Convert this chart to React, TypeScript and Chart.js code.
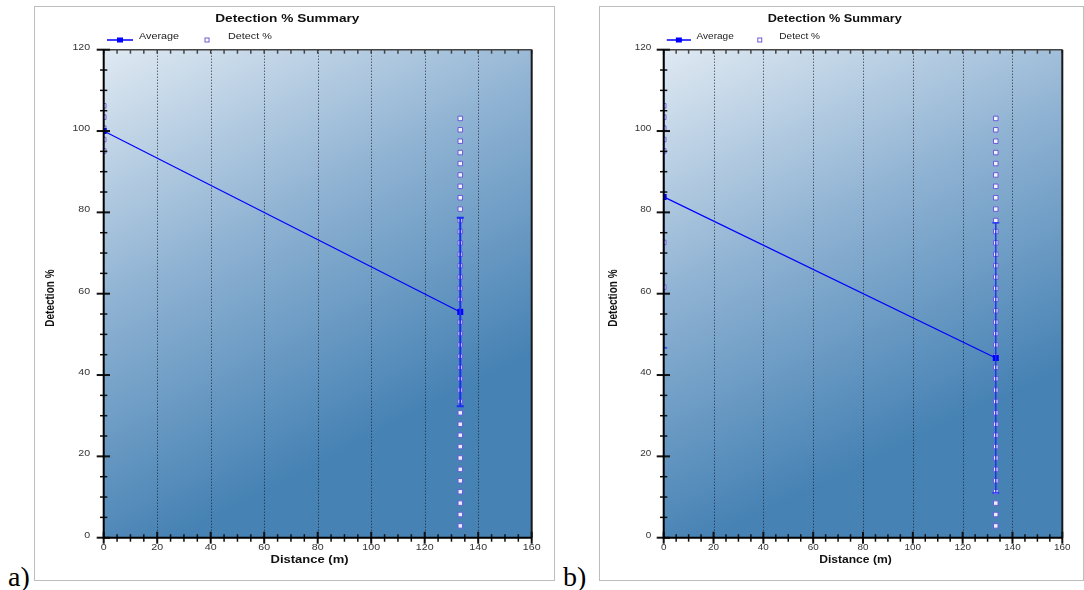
import React, { useEffect, useRef } from 'react';
import { Chart, registerables } from 'chart.js';

Chart.register(...registerables);

// ---------- data ----------
const chartTitle = 'Detection % Summary';
const xTitle = 'Distance (m)';
const yTitle = 'Detection %';
const seriesNames = ['Average', 'Detect %'];
const xTicks = [0, 20, 40, 60, 80, 100, 120, 140, 160];
const yTicks = [0, 20, 40, 60, 80, 100, 120];

const distances = [0, 133.3];

const averageA = [100, 55.5];
const sdA = [0, 23.2];
const detectStartA = [95.1, 97.9, 100.7, 103.4, 106.2];
const detectEndA = [
  2.9, 5.7, 8.5, 11.3, 14.0, 16.8, 19.6, 22.4, 25.2, 27.9, 30.7, 33.5, 36.3,
  39.1, 41.9, 44.6, 47.4, 50.2, 53.0, 55.8, 58.6, 61.3, 64.1, 66.9, 69.7, 72.5,
  75.3, 78.0, 80.8, 83.6, 86.4, 89.2, 92.0, 94.7, 97.5, 100.3, 103.1,
];

const averageB = [83.8, 44.2];
const sdB = [37.1, 33.2];
const detectStartB = [61.6, 72.6, 95.1, 97.9, 100.7, 103.4, 106.2];
const detectEndB = [
  2.9, 5.7, 8.5, 11.3, 14.0, 16.8, 19.6, 22.4, 25.2, 27.9, 30.7, 33.5, 36.3,
  39.1, 41.9, 44.6, 47.4, 50.2, 53.0, 55.8, 58.6, 61.3, 64.1, 66.9, 69.7, 72.5,
  75.3, 78.0, 80.8, 83.6, 86.4, 89.2, 92.0, 94.7, 97.5, 100.3, 103.1,
];

// ---------- drawing helpers ----------
const FONT = '"Liberation Sans", Arial, Helvetica, sans-serif';

function drawText(
  ctx: CanvasRenderingContext2D,
  text: string,
  x: number,
  y: number,
  sx: number,
  align: CanvasTextAlign,
  baseline: CanvasTextBaseline,
  font: string,
  color: string,
  rotate = 0
) {
  ctx.save();
  ctx.font = font;
  ctx.fillStyle = color;
  ctx.textAlign = align;
  ctx.textBaseline = baseline;
  ctx.translate(x, y);
  ctx.scale(sx, 1);
  if (rotate) ctx.rotate(rotate);
  ctx.fillText(text, 0, 0);
  ctx.restore();
}

type PanelCfg = {
  k: number;
  avg: number[];
  sd: number[];
  detStart: number[];
  detEnd: number[];
  errWidth: number;
};

function makePlugin(cfg: PanelCfg) {
  return {
    id: 'detectionDecor',
    beforeDatasetsDraw(chart: any) {
      const { ctx, chartArea } = chart;
      const { left: L, top: T, right: R, bottom: B } = chartArea;
      const W = R - L;
      const H = B - T;
      ctx.save();
      const g = ctx.createLinearGradient(L, T, L + 0.5 * W, T + 0.85 * H);
      g.addColorStop(0, '#dfe9f2');
      g.addColorStop(0.5, '#8db1d2');
      g.addColorStop(1, '#4682b4');
      ctx.fillStyle = g;
      ctx.fillRect(L, T, W, H);
      // dotted vertical grid lines
      const xs = chart.scales.x;
      ctx.strokeStyle = 'rgba(25,25,35,0.9)';
      ctx.lineWidth = 1;
      ctx.setLineDash([1, 2]);
      xTicks.forEach((v) => {
        if (v <= xs.min || v >= xs.max) return;
        const px = Math.round(xs.getPixelForValue(v)) + 0.5;
        ctx.beginPath();
        ctx.moveTo(px, T);
        ctx.lineTo(px, B);
        ctx.stroke();
      });
      ctx.restore();
    },
    afterDatasetsDraw(chart: any) {
      const { ctx, chartArea } = chart;
      const { left: L, top: T, right: R, bottom: B } = chartArea;
      const xs = chart.scales.x;
      const ys = chart.scales.y;
      // error bars
      ctx.save();
      ctx.beginPath();
      ctx.rect(L, T, R - L, B - T);
      ctx.clip();
      ctx.strokeStyle = '#1a2cf5';
      ctx.lineWidth = cfg.errWidth;
      distances.forEach((d, i) => {
        if (!cfg.sd[i]) return;
        const px = xs.getPixelForValue(d);
        const yTop = ys.getPixelForValue(cfg.avg[i] + cfg.sd[i]);
        const yBot = ys.getPixelForValue(cfg.avg[i] - cfg.sd[i]);
        ctx.beginPath();
        ctx.moveTo(px, yTop);
        ctx.lineTo(px, yBot);
        ctx.moveTo(px - 3.5, yTop);
        ctx.lineTo(px + 3.5, yTop);
        ctx.moveTo(px - 3.5, yBot);
        ctx.lineTo(px + 3.5, yBot);
        ctx.stroke();
      });
      ctx.restore();

      ctx.save();
      // top border + ticks
      ctx.strokeStyle = '#444';
      ctx.lineWidth = 1.5;
      ctx.beginPath();
      ctx.moveTo(L, T);
      ctx.lineTo(R, T);
      ctx.stroke();
      for (let v = 0; v <= 160; v += 5) {
        const px = xs.getPixelForValue(v);
        ctx.beginPath();
        ctx.moveTo(px, T);
        ctx.lineTo(px, T + 4);
        ctx.stroke();
      }
      // right border
      ctx.strokeStyle = '#1a1a1a';
      ctx.lineWidth = 2;
      ctx.beginPath();
      ctx.moveTo(R, T);
      ctx.lineTo(R, B);
      ctx.stroke();
      // left axis ticks
      ctx.strokeStyle = '#111';
      for (let v = 0; v <= 120; v += 5) {
        const py = ys.getPixelForValue(v);
        const major = v % 20 === 0;
        ctx.lineWidth = major ? 2 : 1.5;
        ctx.beginPath();
        ctx.moveTo(L - (major ? 7 : 3.7), py);
        ctx.lineTo(L + (major ? 6.3 : 3.6), py);
        ctx.stroke();
      }
      // bottom axis ticks
      for (let v = 0; v <= 160; v += 5) {
        const px = xs.getPixelForValue(v);
        const major = v % 20 === 0;
        ctx.lineWidth = major ? 2 : 1.5;
        ctx.beginPath();
        ctx.moveTo(px, B - (major ? 6 : 3.5));
        ctx.lineTo(px, B + (major ? 6 : 4));
        ctx.stroke();
      }
      // axis lines
      ctx.strokeStyle = '#000';
      ctx.lineWidth = 2;
      ctx.beginPath();
      ctx.moveTo(L, T);
      ctx.lineTo(L, B + 1);
      ctx.moveTo(L - 1, B);
      ctx.lineTo(R, B);
      ctx.stroke();
      ctx.restore();
    },
    afterDraw(chart: any) {
      const { ctx, chartArea } = chart;
      const { left: L, top: T, right: R, bottom: B } = chartArea;
      const W = R - L;
      const H = B - T;
      const k = cfg.k;
      const xs = chart.scales.x;
      const ys = chart.scales.y;

      // title
      drawText(ctx, chartTitle, L + 0.429 * W, T - 27.7, 1.3 * k, 'center', 'alphabetic', `bold 10.5px ${FONT}`, '#111');

      // legend
      const ly = T - 9.7;
      ctx.save();
      ctx.strokeStyle = '#0000ff';
      ctx.lineWidth = 1.5;
      ctx.beginPath();
      ctx.moveTo(L + 3.3 * k, ly);
      ctx.lineTo(L + 29.3 * k, ly);
      ctx.stroke();
      ctx.fillStyle = '#0000ff';
      ctx.fillRect(L + 16.3 * k - 3, ly - 2.5, 6, 5);
      ctx.fillStyle = '#ffffff';
      ctx.fillRect(L + 103.3 * k - 2, ly - 2, 4, 4);
      ctx.strokeStyle = '#6a5ad8';
      ctx.lineWidth = 1;
      ctx.strokeRect(L + 103.3 * k - 2, ly - 2, 4, 4);
      ctx.restore();
      drawText(ctx, seriesNames[0], L + 35.3 * k, ly - 0.6, 1.2 * k, 'left', 'alphabetic', `9px ${FONT}`, '#222');
      drawText(ctx, seriesNames[1], L + 124.3 * k, ly - 0.6, 1.2 * k, 'left', 'alphabetic', `9px ${FONT}`, '#222');

      // y tick labels
      yTicks.forEach((v) => {
        const py = ys.getPixelForValue(v);
        drawText(ctx, String(v), L - 13.5 * k, py - 2.5, 1.12 * k, 'right', 'middle', `9.5px ${FONT}`, '#333');
      });
      // x tick labels
      xTicks.forEach((v) => {
        const px = xs.getPixelForValue(v);
        drawText(ctx, String(v), px, B + 10, 1.12 * k, 'center', 'middle', `9.5px ${FONT}`, '#333');
      });

      // axis titles
      drawText(ctx, xTitle, L + 0.481 * W, B + 22.5, 1.3 * k, 'center', 'middle', `bold 10px ${FONT}`, '#111');
      drawText(ctx, yTitle, L - 53.4 * k, T + 0.509 * H, 1.3 * k, 'center', 'middle', `bold 10px ${FONT}`, '#111', -Math.PI / 2);
    },
  };
}

type PanelProps = {
  frame: { x: number; y: number; w: number; h: number };
  box: { x: number; y: number; w: number; h: number };
  padding: { left: number; top: number; right: number; bottom: number };
  cfg: PanelCfg;
};

function Panel({ frame, box, padding, cfg }: PanelProps) {
  const ref = useRef<HTMLCanvasElement>(null);
  useEffect(() => {
    const canvas = ref.current;
    if (!canvas) return;
    const detectPoints = [
      ...cfg.detStart.map((y) => ({ x: distances[0], y })),
      ...cfg.detEnd.map((y) => ({ x: distances[1], y })),
    ];
    const chart = new Chart(canvas, {
      type: 'scatter',
      data: {
        datasets: [
          {
            label: seriesNames[0],
            data: distances.map((x, i) => ({ x, y: cfg.avg[i] })),
            showLine: true,
            borderColor: '#0000ff',
            backgroundColor: '#0000ff',
            borderWidth: 1.2,
            pointStyle: 'rect',
            pointRadius: 4.2,
            pointBackgroundColor: '#0000ff',
            pointBorderColor: '#0000ff',
            pointBorderWidth: 0,
            clip: 0,
          } as any,
          {
            label: seriesNames[1],
            data: detectPoints,
            showLine: false,
            pointStyle: 'rect',
            pointRadius: 3.2,
            pointBackgroundColor: 'rgba(255,255,255,0.88)',
            pointBorderColor: '#6a5ad8',
            pointBorderWidth: 1,
            clip: 0,
          } as any,
        ],
      },
      options: {
        animation: false,
        responsive: false,
        maintainAspectRatio: false,
        devicePixelRatio: 1,
        events: [],
        layout: { padding },
        plugins: {
          legend: { display: false },
          title: { display: false },
          tooltip: { enabled: false },
        },
        scales: {
          x: { type: 'linear', min: 0, max: 160, display: false },
          y: { type: 'linear', min: 0, max: 120, display: false },
        },
      },
      plugins: [makePlugin(cfg) as any],
    });
    return () => chart.destroy();
  }, []);
  return (
    <>
      <div
        style={{
          position: 'absolute',
          left: frame.x,
          top: frame.y,
          width: frame.w,
          height: frame.h,
          border: '1px solid #bdbdbd',
          background: '#ffffff',
          boxSizing: 'border-box',
        }}
      />
      <canvas
        ref={ref}
        width={box.w}
        height={box.h}
        style={{ position: 'absolute', left: box.x, top: box.y, width: box.w, height: box.h }}
      />
    </>
  );
}

export default function App() {
  const labelStyle: React.CSSProperties = {
    position: 'absolute',
    top: 563,
    fontFamily: '"Liberation Serif", "Times New Roman", serif',
    fontSize: 28,
    lineHeight: 1,
    color: '#000',
  };
  return (
    <div style={{ position: 'absolute', left: 0, top: 0, width: 1084, height: 590, background: '#fff', overflow: 'hidden' }}>
      <Panel
        frame={{ x: 34, y: 6, w: 521, h: 575 }}
        box={{ x: 35, y: 7, w: 518, h: 572 }}
        padding={{ left: 68.7, top: 42.7, right: 21.3, bottom: 41.3 }}
        cfg={{ k: 1, avg: averageA, sd: sdA, detStart: detectStartA, detEnd: detectEndA, errWidth: 2 }}
      />
      <Panel
        frame={{ x: 599, y: 6, w: 485, h: 575 }}
        box={{ x: 600, y: 7, w: 482, h: 572 }}
        padding={{ left: 63.7, top: 42.7, right: 19.7, bottom: 41.3 }}
        cfg={{ k: 0.93, avg: averageB, sd: sdB, detStart: detectStartB, detEnd: detectEndB, errWidth: 1.3 }}
      />
      <div style={{ ...labelStyle, left: 8 }}>a)</div>
      <div style={{ ...labelStyle, left: 563 }}>b)</div>
    </div>
  );
}
